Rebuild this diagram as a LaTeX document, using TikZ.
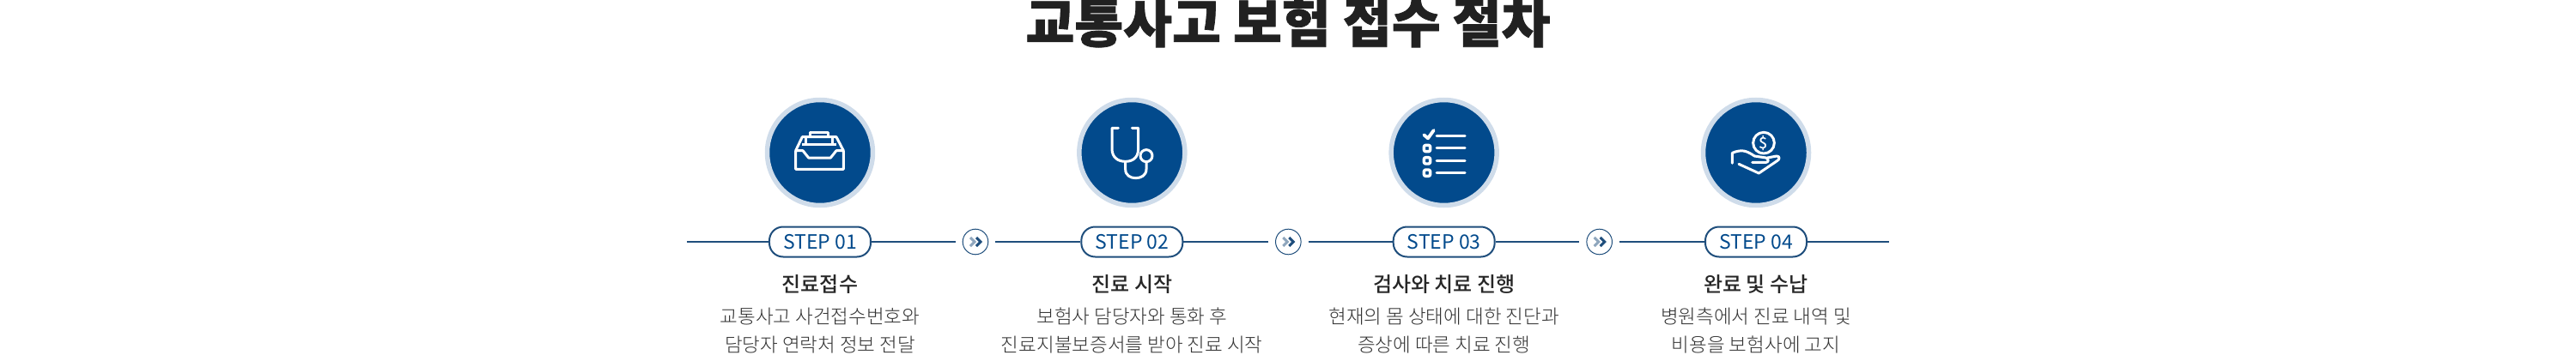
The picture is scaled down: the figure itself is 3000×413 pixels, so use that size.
\documentclass[tikz,border=0pt]{standalone}
\usepackage{fontspec}
\setmainfont{Noto Sans CJK KR}
\newfontfamily\titlefont[FakeBold=1.2]{Noto Sans CJK KR Black}
\newfontfamily\headfont{Noto Sans CJK KR Medium}
\newfontfamily\bodyfont{Noto Sans CJK KR Light}
\usetikzlibrary{shapes.geometric}
\definecolor{navy}{HTML}{024A8C}
\definecolor{ringblue}{HTML}{CFDCEA}
\definecolor{railblue}{HTML}{1F4E7C}
\definecolor{inkgrey}{HTML}{333333}
\tikzstyle{titletext} = [inner sep=0pt, font=\titlefont\fontsize{30.9}{31}\selectfont, text=black!87]
\tikzstyle{iconcirc} = [circle, inner sep=0pt, minimum size=61.5pt, fill=navy, draw=ringblue, line width=2.75pt]
\tikzstyle{steppill} = [rectangle, rounded corners=8pt, inner sep=0pt, minimum width=59pt, minimum height=17.5pt, draw=railblue, fill=white, line width=1pt, text=navy, font=\fontsize{11.5}{12}\selectfont]
\tikzstyle{badge} = [circle, inner sep=0pt, minimum size=14.8pt, draw=railblue, fill=white, line width=.5pt]
\tikzstyle{headtext} = [inner sep=0pt, text=black!85, font=\headfont\fontsize{12}{14}\selectfont]
\tikzstyle{bodytext} = [inner sep=0pt, align=center, text=inkgrey, font=\bodyfont\fontsize{11.25}{16.5}\selectfont]
\tikzstyle{rail} = [line width=1.1pt, draw=railblue]
\tikzstyle{glyph} = [draw=white, line width=1.5pt, line cap=round, line join=round]
\tikzstyle{chev} = [line width=1.5pt, line join=miter]
\begin{document}
\begin{tikzpicture}[x=.5pt, y=.5pt, node distance=52pt]
  \useasboundingbox (-955,178) rectangle (2045,-235);

  % top row
  \node (ico1) [iconcirc] {};
  \node (ico2) [iconcirc, right of=ico1, xshift=129.67pt] {};
  \node (ico3) [iconcirc, right of=ico2, xshift=129.67pt] {};
  \node (ico4) [iconcirc, right of=ico3, xshift=129.67pt] {};
  \node (title) [titletext, above of=ico1, xshift=272.5pt, yshift=24pt] {교통사고 보험 접수 절차};

  % step row
  \node (step1) [steppill, below of=ico1] {STEP 01};
  \node (step2) [steppill, below of=ico2] {STEP 02};
  \node (step3) [steppill, below of=ico3] {STEP 03};
  \node (step4) [steppill, below of=ico4] {STEP 04};
  \node (badge1) [badge, right of=step1, xshift=38.5pt] {};
  \node (badge2) [badge, right of=step2, xshift=39pt] {};
  \node (badge3) [badge, right of=step3, xshift=38.5pt] {};
  \coordinate (railA) at (-155,-104);
  \coordinate (railB) at (1245,-104);

  \draw [rail] (railA) -- (step1);
  \draw [rail, shorten >=4pt] (step1) -- (badge1);
  \draw [rail, shorten <=4pt] (badge1) -- (step2);
  \draw [rail, shorten >=4pt] (step2) -- (badge2);
  \draw [rail, shorten <=4pt] (badge2) -- (step3);
  \draw [rail, shorten >=4pt] (step3) -- (badge3);
  \draw [rail, shorten <=4pt] (badge3) -- (step4);
  \draw [rail] (step4) -- (railB);

  % captions
  \node (head1) [headtext, below of=step1, yshift=27pt] {진료접수};
  \node (head2) [headtext, below of=step2, yshift=27pt] {진료 시작};
  \node (head3) [headtext, below of=step3, yshift=27pt] {검사와 치료 진행};
  \node (head4) [headtext, below of=step4, yshift=27pt] {완료 및 수납};
  \node (txt1) [bodytext, below of=head1, yshift=25.25pt] {교통사고 사건접수번호와\\담당자 연락처 정보 전달};
  \node (txt2) [bodytext, below of=head2, yshift=25.25pt] {보험사 담당자와 통화 후\\진료지불보증서를 받아 진료 시작};
  \node (txt3) [bodytext, below of=head3, yshift=25.25pt] {현재의 몸 상태에 대한 진단과\\증상에 따른 치료 진행};
  \node (txt4) [bodytext, below of=head4, yshift=25.25pt] {병원측에서 진료 내역 및\\비용을 보험사에 고지};

  % badge chevrons
  \foreach \b in {badge1,badge2,badge3} {
    \begin{scope}[shift={(\b)}]
      \draw [chev, draw=railblue!50] (-6,-5) -- (-1,0) -- (-6,5);
      \draw [chev, draw=railblue] (1,-5) -- (6,0) -- (1,5);
    \end{scope}
  }

  % icons, in thirds of a pixel from the circle centre
  \begin{scope}[shift={(ico1)}, x=.1667pt, y=-.1667pt]
    \draw [glyph, line cap=butt] (-85,-7) -- (-85,58) -- (82,58) -- (82,-7) -- (57,-7) -- (37,18) -- (-40,18) -- (-60,-7) -- cycle;
    \draw [glyph, line cap=butt] (-85,-7) -- (-62,-55) -- (57,-55) -- (82,-7);
    \draw [glyph, line cap=butt] (-48,-55) -- (-48,-30) (43,-55) -- (43,-30) (-62,-28) -- (57,-28);
    \draw [glyph, line cap=butt] (-35,-55) -- (-35,-70) -- (30,-70) -- (30,-55);
  \end{scope}
  \begin{scope}[shift={(ico2)}, x=.1667pt, y=-.1667pt]
    \draw [glyph] (-48,-86) -- (-70,-86) -- (-70,-14) .. controls (-70,18) and (-48,31) .. (-23,31) .. controls (2,31) and (22,18) .. (22,-14) -- (22,-86) -- (0,-86);
    \draw [glyph] (-23,31) -- (-23,58) .. controls (-23,80) and (-5,89) .. (13,89) .. controls (31,89) and (50,80) .. (50,58) -- (50,35);
    \draw [glyph] (50,11) circle (21);
  \end{scope}
  \begin{scope}[shift={(ico3)}, x=.1667pt, y=-.1667pt]
    \draw [glyph, line width=1.9pt] (-70,-62) -- (-56,-50) -- (-36,-78);
    \foreach \yy in {-58,-15,28,71} {
      \draw [glyph] (-26,\yy) -- (73,\yy);
    }
    \foreach \yy in {-15,28,71} {
      \draw [glyph, fill=navy, line width=1.7pt, rounded corners=1pt] (-70,\yy-11) rectangle (-48,\yy+11);
    }
  \end{scope}
  \begin{scope}[shift={(ico4)}, x=.1667pt, y=-.1667pt]
    \draw [glyph] (27,-34) circle (37);
    \node (coin) [inner sep=0pt, text=white, font=\headfont\fontsize{9}{9}\selectfont] at (27,-34) {\$};
    \draw [glyph] (-83,1) -- (-83,37) (-83,1) .. controls (-50,-12) and (-35,-8) .. (-5,12) -- (35,18) .. controls (45,22) and (45,34) .. (35,34) -- (-13,34);
    \draw [glyph] (40,18) -- (72,12) .. controls (84,12) and (84,24) .. (72,30) -- (10,72) -- (-60,40);
  \end{scope}
\end{tikzpicture}
\end{document}
